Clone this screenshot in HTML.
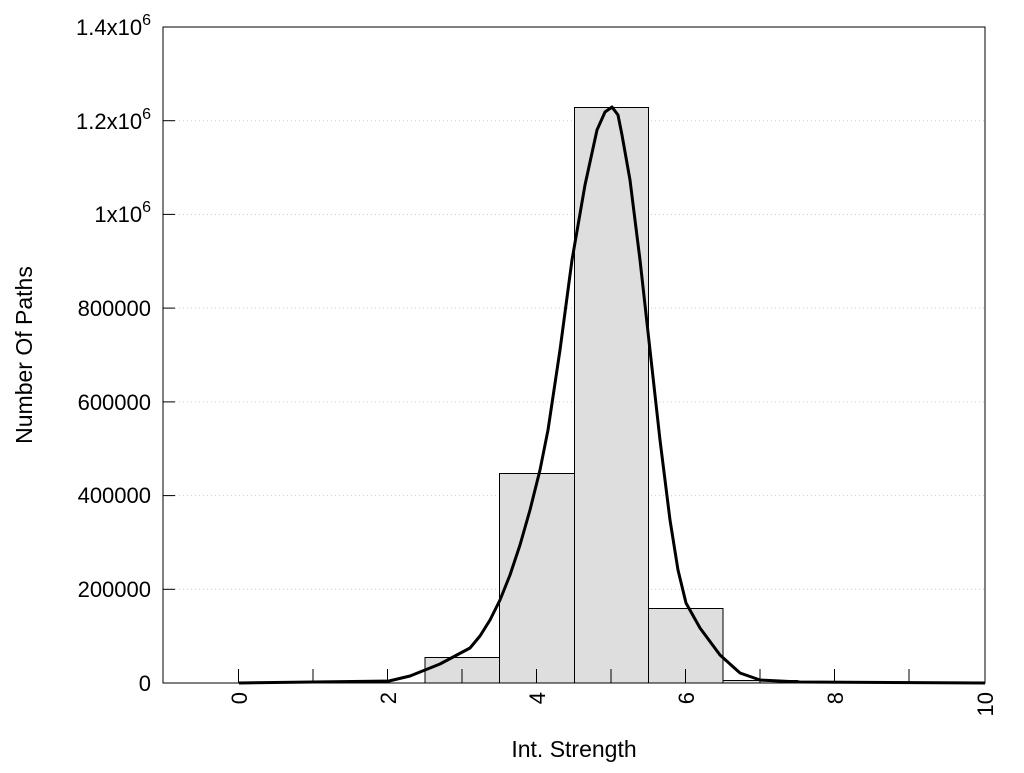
<!DOCTYPE html>
<html><head><style>body{margin:0;background:#fff}svg text{font-family:"Liberation Sans",Arial,sans-serif;fill:#000}</style></head>
<body>
<svg width="1024" height="768" viewBox="0 0 1024 768" xmlns="http://www.w3.org/2000/svg">
<g stroke="#ccc" stroke-dasharray="1,3" stroke-width="1">
<line x1="163" y1="589.3" x2="985" y2="589.3"/>
<line x1="163" y1="495.6" x2="985" y2="495.6"/>
<line x1="163" y1="401.9" x2="985" y2="401.9"/>
<line x1="163" y1="308.1" x2="985" y2="308.1"/>
<line x1="163" y1="214.4" x2="985" y2="214.4"/>
<line x1="163" y1="120.7" x2="985" y2="120.7"/>
</g>
<g fill="#dedede" stroke="#000" stroke-width="1">
<rect x="425" y="657.5" width="74.5" height="25.5"/>
<rect x="499.5" y="473.5" width="75" height="209.5"/>
<rect x="574.5" y="107.5" width="74" height="575.5"/>
<rect x="648.5" y="608.5" width="74.5" height="74.5"/>
<rect x="723" y="680.5" width="74.5" height="2.5"/>
</g>
<polyline fill="none" stroke="#000" stroke-width="3" stroke-linejoin="round" points="239,683 389,681 410,676 440,664 470,648 480,636 490,620 500,600 510,575 520,545 530,510 540,470 548,430 560,350 572,260 585,185 597,130 605,112 612,107 618,115 622,135 630,180 640,260 650,350 660,440 670,520 678,570 686,603 700,628 720,655 740,673 760,680 800,682 985,683"/>
<g stroke="#000" stroke-width="1">
<rect x="163" y="27" width="822" height="656" fill="none"/>
<line x1="238.5" y1="683" x2="238.5" y2="669"/><line x1="313" y1="683" x2="313" y2="669"/>
<line x1="387.5" y1="683" x2="387.5" y2="669"/><line x1="462" y1="683" x2="462" y2="669"/>
<line x1="536.5" y1="683" x2="536.5" y2="669"/><line x1="611" y1="683" x2="611" y2="669"/>
<line x1="685.5" y1="683" x2="685.5" y2="669"/><line x1="760" y1="683" x2="760" y2="669"/>
<line x1="834.5" y1="683" x2="834.5" y2="669"/><line x1="909" y1="683" x2="909" y2="669"/>
<line x1="163" y1="589.3" x2="175" y2="589.3"/><line x1="163" y1="495.6" x2="175" y2="495.6"/>
<line x1="163" y1="401.9" x2="175" y2="401.9"/><line x1="163" y1="308.1" x2="175" y2="308.1"/>
<line x1="163" y1="214.4" x2="175" y2="214.4"/><line x1="163" y1="120.7" x2="175" y2="120.7"/>
</g>
<g font-size="22" text-anchor="end">
<text x="151" y="691">0</text>
<text x="151" y="597">200000</text>
<text x="151" y="503">400000</text>
<text x="151" y="410">600000</text>
<text x="151" y="316">800000</text>
<text x="151" y="222">1x10<tspan dy="-10" font-size="16">6</tspan></text>
<text x="151" y="129">1.2x10<tspan dy="-10" font-size="16">6</tspan></text>
<text x="151" y="35">1.4x10<tspan dy="-10" font-size="16">6</tspan></text>
</g>
<g font-size="22" text-anchor="end">
<text transform="translate(247,692) rotate(-90)">0</text>
<text transform="translate(396,692) rotate(-90)">2</text>
<text transform="translate(545,692) rotate(-90)">4</text>
<text transform="translate(694,692) rotate(-90)">6</text>
<text transform="translate(843,692) rotate(-90)">8</text>
<text transform="translate(993,692) rotate(-90)">10</text>
</g>
<text x="574" y="757" font-size="23" text-anchor="middle">Int. Strength</text>
<text transform="translate(32,355) rotate(-90)" font-size="23" text-anchor="middle">Number Of Paths</text>
</svg>
</body></html>
